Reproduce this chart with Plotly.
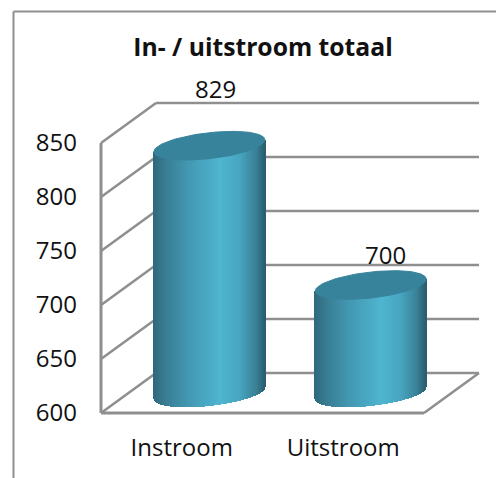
import numpy as np
import plotly.graph_objects as go

categories = ["Instroom", "Uitstroom"]
values = [829, 700]
y_ticks = [600, 650, 700, 750, 800, 850]
title_text = "In- / uitstroom totaal"

W, H = 496, 478
L, R, T, B = 101, 424, 143, 413
PAD = 4
px_x = (R - L) / 2.0
px_y = (B - T) / 250.0
depth_x = 55 / px_x
depth_y = 40 / px_y
half_w = 55.5 / px_x
minor = 13.0 / px_y
shear = 6.0 / px_y
GRID = "#8f8f8f"
TEXT = "#111111"
FONT = "Open Sans"
stops_u = [-1.0, -0.8, -0.4, 0.2, 0.55, 0.85, 1.0]
stops_rgb = np.array([[47, 104, 124], [56, 124, 146], [66, 150, 176], [79, 181, 209],
                      [72, 165, 192], [56, 128, 150], [42, 94, 112]], float)


def shade(u):
    c = [np.interp(u, stops_u, stops_rgb[:, i]) for i in range(3)]
    return "rgb(%d,%d,%d)" % tuple(int(round(v)) for v in c)


fig = go.Figure()
x0, x1 = -0.5, 1.5
shapes = []


def wall(xa, ya, xb, yb, width=2.5):
    shapes.append(dict(type="line", xref="x", yref="y", layer="below", x0=xa, y0=ya, x1=xb, y1=yb,
                       line=dict(color=GRID, width=width)))


for t in y_ticks:
    wall(x0, t, x0 + depth_x, t + depth_y)
    wall(x0 + depth_x, t + depth_y, x1 + depth_x, t + depth_y)
wall(x1, 600, x1 + depth_x, 600 + depth_y)
wall(x0, 600, x0, 850, 3)
wall(x0, 600, x1, 600, 3)

for i, v in enumerate(values):
    cx = i + depth_x / 2
    base = 600 + depth_y / 2
    top = v + depth_y / 2
    us = np.linspace(-1, 1, 112)
    xs = cx + us * half_w
    lower = shear * us - minor * np.sqrt(1 - us ** 2)
    fig.add_trace(go.Bar(x=xs, y=(top + shear * us) - (base + lower), base=base + lower,
                         width=2.2 / px_x, cliponaxis=False, hoverinfo="skip", showlegend=False,
                         marker=dict(color=[shade(u) for u in us], line=dict(width=0))))
    th = np.linspace(0, 2 * np.pi, 120)
    fig.add_trace(go.Scatter(x=cx + half_w * np.cos(th),
                             y=top + shear * np.cos(th) + minor * np.sin(th),
                             mode="lines", fill="toself", fillcolor="#37839b",
                             line=dict(color="#37839b", width=1), cliponaxis=False,
                             hoverinfo="skip", showlegend=False))

label_shift = [(6, 57), (15, 31)]
for i, v in enumerate(values):
    fig.add_annotation(x=i + depth_x / 2, y=v + depth_y / 2, text=str(v), showarrow=False,
                       xshift=label_shift[i][0], yshift=label_shift[i][1],
                       font=dict(family=FONT, size=24, color=TEXT))

pl, pr = L - PAD, R + 54 + PAD
pt, pb = T - 41 - PAD, B + PAD
x_range = [x0 - PAD / px_x, x1 + (54 + PAD) / px_x]
y_range = [600 - PAD / px_y, 850 + (41 + PAD) / px_y]


def px(x):
    return (x - pl) / (pr - pl)


def py(y):
    return (pb - y) / (pb - pt)


shapes += [dict(type="line", xref="paper", yref="paper", x0=px(13.5), x1=px(W), y0=py(11.5), y1=py(11.5),
                line=dict(color=GRID, width=2)),
           dict(type="line", xref="paper", yref="paper", x0=px(13.5), x1=px(13.5), y0=py(11.5), y1=py(H),
                line=dict(color=GRID, width=2))]

fig.update_layout(
    width=W, height=H, margin=dict(l=pl, r=W - pr, t=pt, b=H - pb), autosize=False,
    paper_bgcolor="white", plot_bgcolor="rgba(0,0,0,0)", barmode="overlay", bargap=0,
    showlegend=False,
    title=dict(text="<b>%s</b>" % title_text, x=263 / W, xanchor="center", y=1 - 47 / H, yanchor="middle",
               font=dict(family=FONT, size=24.7, color=TEXT)),
    xaxis=dict(range=x_range, tickmode="array", tickvals=list(range(len(categories))), ticktext=categories,
               showgrid=False, zeroline=False, showline=False, ticks="",
               ticklabelstandoff=14, tickfont=dict(family=FONT, size=24, color=TEXT)),
    yaxis=dict(range=y_range, tickmode="array", tickvals=y_ticks, showgrid=False, zeroline=False,
               showline=False, ticks="", ticklabelstandoff=19,
               tickfont=dict(family=FONT, size=24, color=TEXT)),
    shapes=shapes,
)
fig.write_html("out.html", config=dict(displayModeBar=False),
               post_script="document.body.style.margin='0';document.body.style.overflow='hidden';")
